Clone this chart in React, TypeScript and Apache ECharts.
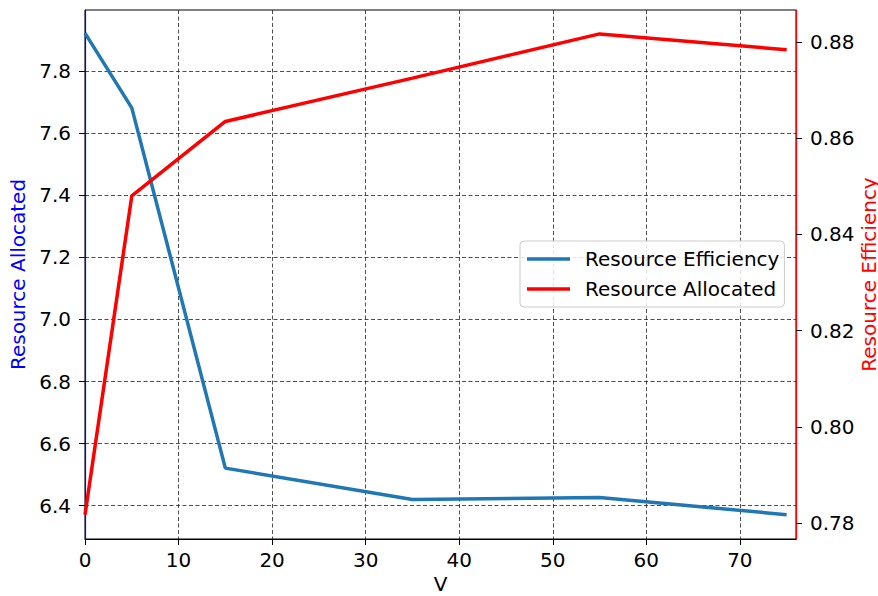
import React, { useEffect, useRef } from "react";
import * as echarts from "echarts";

const xValues = [0, 5, 15, 35, 55, 75];
const blueValues = [7.923, 7.682, 6.521, 6.42, 6.426, 6.371];
const redValues = [0.7817, 0.848, 0.8635, 0.8725, 0.8817, 0.8784];
const leftTicks = [6.4, 6.6, 6.8, 7.0, 7.2, 7.4, 7.6, 7.8];
const rightTicks = [0.78, 0.8, 0.82, 0.84, 0.86, 0.88];

const FONT = "DejaVu Sans";
const FS = 20;

export default function App() {
  const ref = useRef<HTMLDivElement>(null);
  useEffect(() => {
    if (!ref.current) return;
    const chart = echarts.init(ref.current, undefined, { renderer: "svg" });
    const grid = "#222";
    chart.setOption({
      animation: false,
      backgroundColor: "#fff",
      textStyle: { fontFamily: FONT },
      grid: {
        left: 85, right: 82, top: 10, bottom: 57,
        outerBoundsMode: "none",
        containLabel: false,
        show: true, borderColor: "#000", borderWidth: 1, backgroundColor: "transparent",
      },
      legend: {
        orient: "vertical",
        left: 520, top: 241,
        padding: [8, 5, 8, 7],
        itemGap: 10,
        itemWidth: 43, itemHeight: 3.5,
        icon: "rect",
        backgroundColor: "rgba(255,255,255,0.85)",
        borderColor: "#cccccc", borderWidth: 1, borderRadius: 4,
        textStyle: { fontFamily: FONT, fontSize: FS, color: "#000", padding: [0, 0, 0, 10] },
        data: ["Resource Efficiency", "Resource Allocated"],
      },
      xAxis: {
        type: "value", min: 0, max: 76, interval: 10,
        name: "V", nameLocation: "middle", nameGap: 35, nameMoveOverlap: false,
        nameTextStyle: { fontFamily: FONT, fontSize: FS, color: "#000" },
        axisLine: { show: true, lineStyle: { color: "#000", width: 1 } },
        axisTick: { show: true, inside: false, length: 6, lineStyle: { color: "#000" } },
        axisLabel: { fontFamily: FONT, fontSize: FS, color: "#000", margin: 11, showMaxLabel: false },
        splitLine: { show: true, lineStyle: { color: grid, width: 0.8, type: [4, 2.5] } },
      },
      yAxis: [
        {
          type: "value", min: 6.2925, max: 7.9975, position: "left",
          name: "Resource Allocated", nameLocation: "middle", nameGap: 57, nameRotate: 90,
          nameMoveOverlap: false,
          nameTextStyle: { fontFamily: FONT, fontSize: FS, color: "#0000ff" },
          axisLine: { show: true, lineStyle: { color: "#0000ff", width: 1.2 } },
          axisTick: { show: true, length: 6, lineStyle: { color: "#000" }, customValues: leftTicks },
          axisLabel: {
            fontFamily: FONT, fontSize: FS, color: "#000", margin: 14,
            customValues: leftTicks, formatter: (v: number) => v.toFixed(1),
          },
          splitLine: { show: true, lineStyle: { color: grid, width: 0.8, type: [4, 2.5] } },
        },
        {
          type: "value", min: 0.77667, max: 0.88667, position: "right",
          name: "Resource Efficiency", nameLocation: "middle", nameGap: 64, nameRotate: 90,
          nameMoveOverlap: false,
          nameTextStyle: { fontFamily: FONT, fontSize: FS, color: "#ff0000", lineHeight: 18 },
          axisLine: { show: true, lineStyle: { color: "#ff0000", width: 1.2 } },
          axisTick: { show: true, length: 6, lineStyle: { color: "#000" }, customValues: rightTicks },
          axisLabel: {
            fontFamily: FONT, fontSize: FS, color: "#000", margin: 14,
            customValues: rightTicks, formatter: (v: number) => v.toFixed(2),
          },
          splitLine: { show: false },
        },
      ],
      series: [
        {
          name: "Resource Efficiency", type: "line", yAxisIndex: 0,
          data: xValues.map((x, i) => [x, blueValues[i]]),
          symbol: "none", color: "#1f77b4",
          lineStyle: { color: "#1f77b4", width: 3.5 },
          z: 3,
        },
        {
          name: "Resource Allocated", type: "line", yAxisIndex: 1,
          data: xValues.map((x, i) => [x, redValues[i]]),
          symbol: "none", color: "#ff0000",
          lineStyle: { color: "#ff0000", width: 3.5 },
          z: 4,
        },
      ],
    });
    return () => chart.dispose();
  }, []);
  return <div ref={ref} style={{ width: 878, height: 596, position: "absolute", left: 0, top: 0 }} />;
}
